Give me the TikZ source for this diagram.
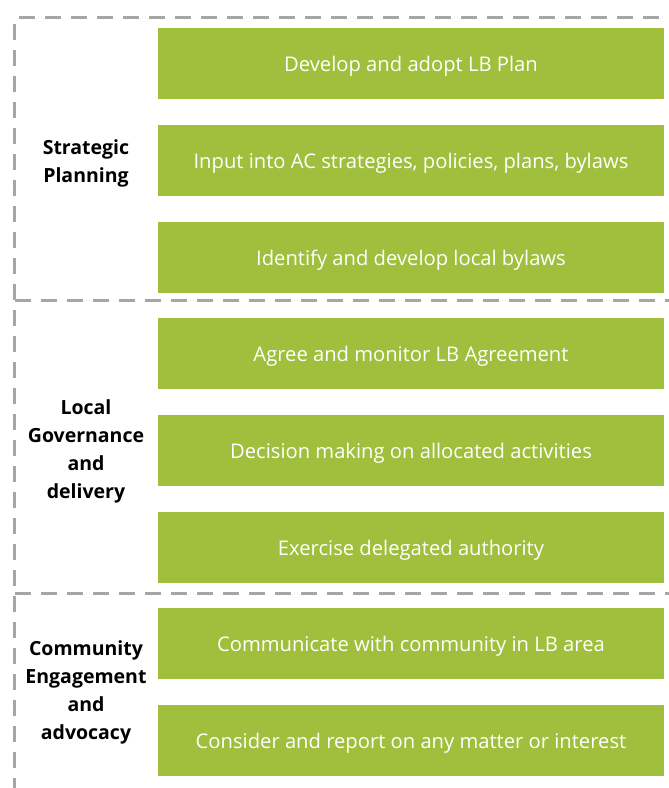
\documentclass[tikz,border=0pt]{standalone}
\usepackage{fontspec}
\setmainfont{Open Sans}
\begin{document}
\begin{tikzpicture}[x=1pt,y=-1pt,
  task/.style={fill=lbgreen, text=white, minimum width=506pt, minimum height=71pt,
    inner sep=0pt, text height=15pt, text depth=0pt, font=\fontsize{20.2}{24}\selectfont},
  area/.style={align=center, font=\bfseries\fontsize{19.5}{28}\selectfont, text=black},
  sep/.style={draw=sepgray, line width=3pt, dash pattern=on 16pt off 10pt}]
\definecolor{lbgreen}{HTML}{A0BF3C}
\definecolor{sepgray}{HTML}{A6A6A6}
\useasboundingbox (0,0) rectangle (669,788);
% activity boxes
\node[task] (b1) at (411,63.5) {Develop and adopt LB Plan};
\node[task] (b2) at (411,160.5) {Input into AC strategies, policies, plans, bylaws};
\node[task] (b3) at (411,257.5) {Identify and develop local bylaws};
\node[task] (b4) at (411,353.5) {Agree and monitor LB Agreement};
\node[task] (b5) at (411,450.5) {Decision making on allocated activities};
\node[task] (b6) at (411,547.5) {Exercise delegated authority};
\node[task] (b7) at (411,643.5) {Communicate with community in LB area};
\node[task] (b8) at (411,740.5) {Consider and report on any matter or interest};
% group labels
\node[area] (g1) at (86,163) {Strategic\\Planning};
\node[area] (g2) at (86,451) {Local\\Governance\\and\\delivery};
\node[area] (g3) at (86,692) {Community\\Engagement\\and\\advocacy};
% dashed frame and separators
\coordinate (tl) at (19,17);
\coordinate (tr) at (669,17);
\coordinate (lt) at (14,24);
\coordinate (lb) at (14,788);
\coordinate (d1l) at (15,300);
\coordinate (d1r) at (669,300);
\coordinate (d2l) at (15,593);
\coordinate (d2r) at (669,593);
\draw[sep] (tl) -- (tr);
\draw[sep] (lt) -- (lb);
\draw[sep] (d1l) -- (d1r);
\draw[sep] (d2l) -- (d2r);
\end{tikzpicture}
\end{document}
